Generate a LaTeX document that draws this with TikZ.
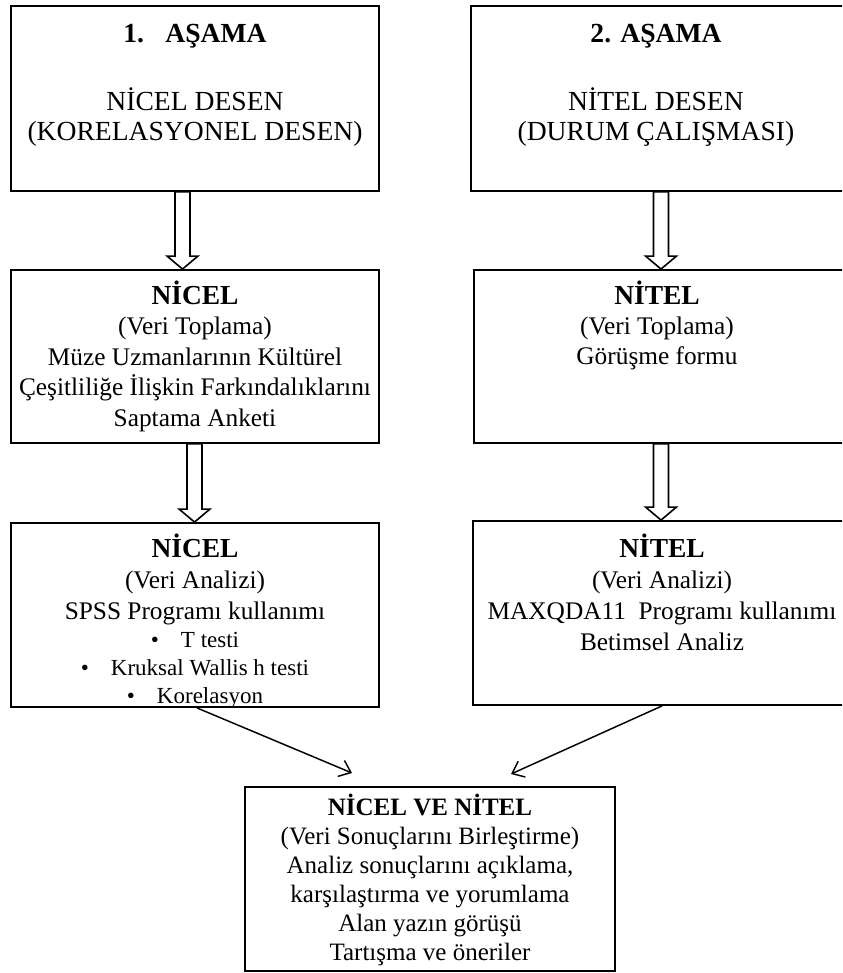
\documentclass[tikz,border=0pt]{standalone}
\usepackage{fontspec}
\setmainfont{Liberation Serif}
\usetikzlibrary{fit,calc,arrows.meta}

% heading line of a stage box
\newcommand\stagehead[1]{{\fontsize{20.6}{23}\selectfont\bfseries #1}}
% bulleted line inside a centred box
\newcommand\bulletline[1]{{\fontsize{17.25}{20}\selectfont\textbullet\hspace{16.5pt}#1}}
% fixes the height of the first line so that its baseline is 20pt below the node top
\newcommand\firststrut{\rule{0pt}{20pt}}
% hollow block arrow from the bottom of one box to the top of another, at the x of a coordinate
\newcommand\blockarrow[3]{%
  \path[hollow] let \p1=(#1 |- #2.south), \p2=(#1 |- #3.north) in
    (\x1-5.6pt,\y1) -- (\x1-5.6pt,\y2+9.75pt) -- (\x1-11.6pt,\y2+9.75pt) --
    (\x1,\y2) -- (\x1+11.6pt,\y2+9.75pt) -- (\x1+5.6pt,\y2+9.75pt) --
    (\x1+5.6pt,\y1) -- cycle;}

\begin{document}
\begin{tikzpicture}[x=0.75pt,y=-0.75pt,
  box/.style={draw, line width=1.4pt, inner sep=0pt},
  txt/.style={anchor=north, inner sep=0pt, align=center},
  toptxt/.style={txt, font=\fontsize{20.7}{22.5}\selectfont},
  midtxt/.style={txt, font=\fontsize{19}{23}\selectfont},
  hollow/.style={draw, line width=1.2pt, fill=white, line join=miter},
  diag/.style={line width=1.1pt, -{Straight Barb[length=8pt,width=13pt,line width=1.1pt]}},
]
\useasboundingbox (0,0) rectangle (842,973);
\clip (0,0) rectangle (842,973);

% boxes
\node[box, fit={(11,6) (379,191)}] (b1) {};
\node[box, fit={(471,6) (845,191)}] (b2) {};
\node[box, fit={(11,270) (379,443)}] (b3) {};
\node[box, fit={(474,270) (845,443)}] (b5) {};
\node[box, fit={(11,523) (379,707)}] (b4) {};
\node[box, fit={(473,521) (851,705)}] (b6) {};
\node[box, fit={(245,787) (615,971)}] (b7) {};

% texts
\node[toptxt] (t1) at (195,15.3) {\firststrut\textbf{1.\hspace{16pt}AŞAMA}\\[28.5pt]
  NİCEL DESEN\\(KORELASYONEL DESEN)};
\node[toptxt] (t2) at (656,15.3) {\firststrut\textbf{2. AŞAMA}\\[28.5pt]
  NİTEL DESEN\\(DURUM ÇALIŞMASI)};

\node[midtxt, font=\fontsize{19}{22.9}\selectfont] (t3) at (195,277.3)
  {\firststrut\stagehead{NİCEL}\\(Veri Toplama)\\Müze Uzmanlarının Kültürel\\
   Çeşitliliğe İlişkin Farkındalıklarını\\Saptama Anketi};
\node[midtxt, font=\fontsize{19}{23.25}\selectfont] (t4) at (195,530.3)
  {\firststrut\stagehead{NİCEL}\\(Veri Analizi)\\SPSS Programı kullanımı\\[-2.2pt]
   \bulletline{T testi}\\[-2.2pt]\bulletline{Kruksal Wallis h testi}\\[-2.2pt]
   \bulletline{Korelasyon}};
\node[midtxt, font=\fontsize{19}{22.5}\selectfont] (t5) at (657,277.3)
  {\firststrut\stagehead{NİTEL}\\(Veri Toplama)\\Görüşme formu};
\node[midtxt, font=\fontsize{19}{23.3}\selectfont] (t6) at (662,530.3)
  {\firststrut\stagehead{NİTEL}\\(Veri Analizi)\\MAXQDA11\ \ Programı kullanımı\\Betimsel Analiz};
\node[txt, font=\fontsize{18.75}{21.75}\selectfont] (t7) at (430,788.3)
  {\firststrut\textbf{NİCEL VE NİTEL}\\(Veri Sonuçlarını Birleştirme)\\
   Analiz sonuçlarını açıklama,\\karşılaştırma ve yorumlama\\
   Alan yazın görüşü\\Tartışma ve öneriler};

% block arrows
\coordinate (ax1) at (182.5,0);
\coordinate (ax2) at (194.5,0);
\coordinate (ax3) at (661,0);
\coordinate (ax4) at (661,0);
\blockarrow{ax1}{b1}{b3}
\blockarrow{ax2}{b3}{b4}
\blockarrow{ax3}{b2}{b5}
\blockarrow{ax4}{b5}{b6}

% converging arrows
\coordinate (tipL) at (352,773);
\coordinate (tipR) at (511,774);
\draw[diag] ([xshift=1.5pt]b4.south) -- (tipL);
\draw[diag] (b6.south) -- (tipR);
\end{tikzpicture}
\end{document}
